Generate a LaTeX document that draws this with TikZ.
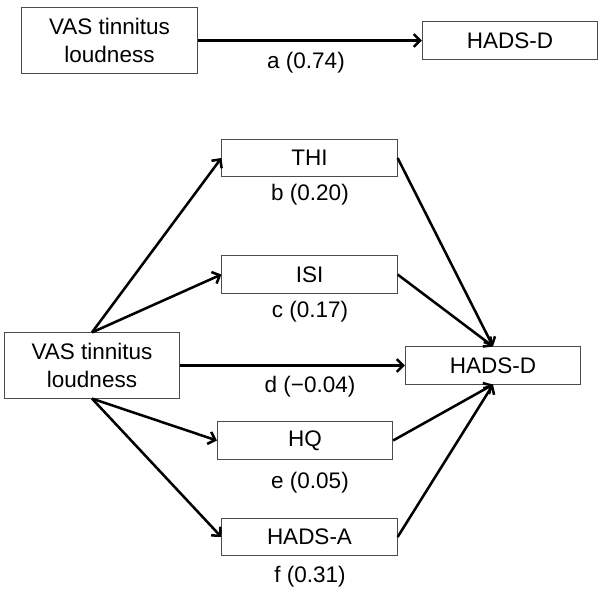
\documentclass[tikz,border=0pt]{standalone}
\usepackage{fontspec}
\setmainfont{Liberation Sans}
\usetikzlibrary{arrows.meta}

\tikzset{
    varbox/.style={draw=black!70, line width=0.7pt, inner sep=0pt, align=center,
        minimum width=4.38cm, minimum height=0.93cm},
    pathlbl/.style={inner sep=0pt},
    path arrow/.style={line width=1.8pt, -{Straight Barb[length=4.5pt,width=9pt]}}
}

\begin{document}
\begin{tikzpicture}[x=0.025cm, y=-0.025cm, font=\fontsize{16}{20}\selectfont]
    \useasboundingbox (0,0) rectangle (600,602);
    % total effect
    \node[varbox, minimum height=1.63cm] (vasTop) at (109.5,40.5) {VAS tinnitus\\loudness};
    \node[varbox] (hadsdTop) at (510,40.5) {HADS-D};
    \draw[path arrow] (vasTop) -- (hadsdTop);
    \node[pathlbl] (lblA) at (306,63) {a (0.74)};

    % mediators
    \node[varbox, minimum height=1.63cm] (vas) at (92,365.5) {VAS tinnitus\\loudness};
    \node[varbox] (hadsd) at (493,365.5) {HADS-D};
    \node[varbox] (thi) at (309.5,158) {THI};
    \node[varbox] (isi) at (309.5,274.5) {ISI};
    \node[varbox] (hq) at (305,440.5) {HQ};
    \node[varbox] (hadsa) at (309.5,537) {HADS-A};

    \foreach \m in {thi,isi}
        \draw[path arrow] (vas.north) -- (\m.west);
    \foreach \m in {hq,hadsa}
        \draw[path arrow] (vas.south) -- (\m.west);
    \draw[path arrow] (vas) -- (hadsd);
    \foreach \m in {thi,isi}
        \draw[path arrow] (\m.east) -- (hadsd.north);
    \foreach \m in {hq,hadsa}
        \draw[path arrow] (\m.east) -- (hadsd.south);

    \node[pathlbl] (lblB) at (310,195) {b (0.20)};
    \node[pathlbl] (lblC) at (310,312) {c (0.17)};
    \node[pathlbl] (lblD) at (310,387) {d (−0.04)};
    \node[pathlbl] (lblE) at (310,483) {e (0.05)};
    \node[pathlbl] (lblF) at (310,577) {f (0.31)};
\end{tikzpicture}
\end{document}
